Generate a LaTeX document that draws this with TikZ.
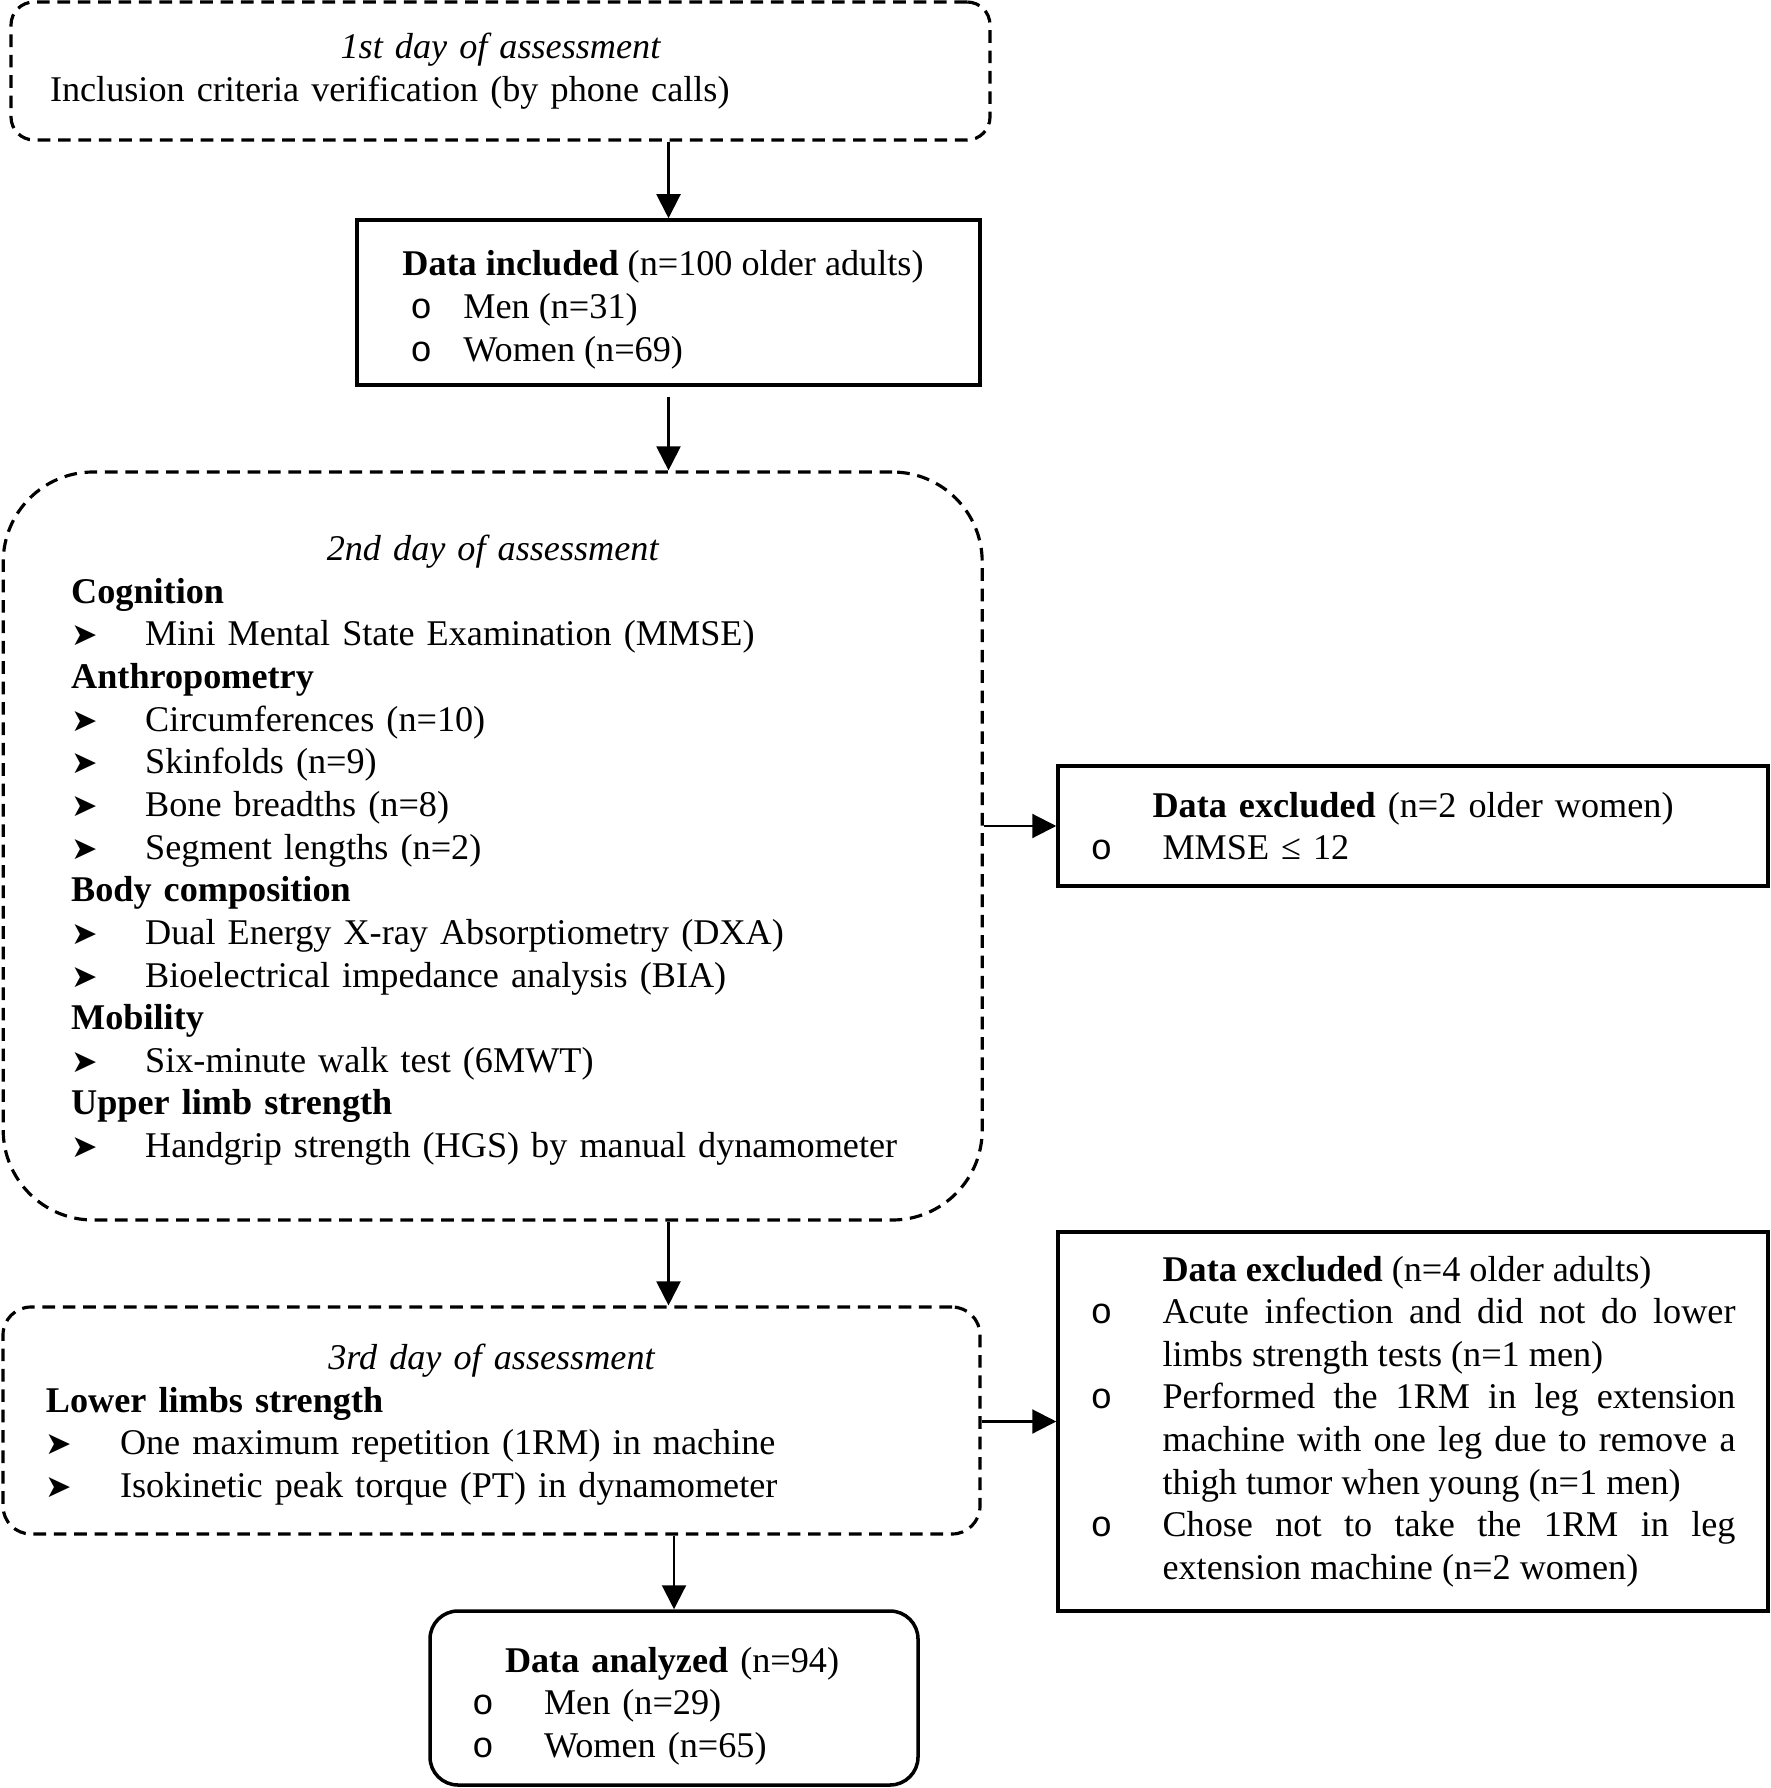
\documentclass[tikz,border=0pt]{standalone}
\usepackage{fontspec}
\setmainfont{Liberation Serif}
\newfontfamily\bulfont{Liberation Mono}
\newfontfamily\symfont{DejaVu Sans}
\usetikzlibrary{arrows.meta,positioning,calc}

% list marks as in the original form
\newcommand{\obul}[1]{\makebox[#1][l]{\bulfont o}}
\newcommand{\abul}{\makebox[0.74cm][l]{\symfont\fontsize{9}{9}\selectfont ➤}}
\newcommand{\oitem}[1]{\par\hangindent=0.72cm\hangafter=1\noindent\obul{0.72cm}#1\par}

\begin{document}
\begin{tikzpicture}[
        dbox/.style = {rectangle, draw=black, line width=0.9pt, dash pattern=on 3.6pt off 2.2pt, inner sep=0pt, font=\fontsize{10.3}{12.13}\selectfont},
        sbox/.style = {rectangle, draw=black, line width=1pt, inner sep=0pt, font=\fontsize{10.3}{12.13}\selectfont},
        arr/.style = {-{Triangle[length=2.4mm, width=2.4mm]}, line width=0.6pt, draw=black}
    ]
        \useasboundingbox (0,0) rectangle (17.7,-17.88);

        % Day 1
        \node[dbox, rounded corners=0.23cm, minimum width=9.79cm, minimum height=1.38cm, text width=9.01cm, align=left] (day1) at (5.005,-0.71)
            {{\centering\itshape 1st day of assessment\par}Inclusion criteria verification (by phone calls)};

        % Included sample
        \node[sbox, minimum width=6.23cm, minimum height=1.65cm, align=left] (incl) at (6.685,-3.025)
            {\rule{0pt}{11.3pt}\textbf{Data included} (n=100 older adults)\rule{0.11cm}{0pt}\\
             \hspace*{0.08cm}\obul{0.53cm}Men (n=31)\\
             \hspace*{0.08cm}\obul{0.53cm}Women (n=69)};

        % Day 2
        \node[dbox, rounded corners=0.9cm, minimum width=9.79cm, minimum height=7.48cm, text width=8.43cm, align=left] (day2) at (4.927,-8.46)
            {{\centering\rule{0pt}{9.7pt}\itshape 2nd day of assessment\par}
             \textbf{Cognition}\\
             \abul Mini Mental State Examination (MMSE)\\
             \textbf{Anthropometry}\\
             \abul Circumferences (n=10)\\
             \abul Skinfolds (n=9)\\
             \abul Bone breadths (n=8)\\
             \abul Segment lengths (n=2)\\
             \textbf{Body composition}\\
             \abul Dual Energy X-ray Absorptiometry (DXA)\\
             \abul Bioelectrical impedance analysis (BIA)\\
             \textbf{Mobility}\\
             \abul Six-minute walk test (6MWT)\\
             \textbf{Upper limb strength}\\
             \abul Handgrip strength (HGS) by manual dynamometer};

        % Excluded after day 2
        \node[sbox, minimum width=7.10cm, minimum height=1.20cm, text width=6.45cm, align=left] (excl1) at (14.13,-8.26)
            {\hspace*{0.62cm}\textbf{Data excluded} (n=2 older women)\\
             \obul{0.72cm}MMSE ≤ 12};

        % Day 3
        \node[dbox, rounded corners=0.28cm, minimum width=9.77cm, minimum height=2.27cm, text width=8.91cm, align=left] (day3) at (4.915,-14.205)
            {{\centering\rule{0pt}{9.7pt}\itshape 3rd day of assessment\par}
             \textbf{Lower limbs strength}\\
             \abul One maximum repetition (1RM) in machine\\
             \abul Isokinetic peak torque (PT) in dynamometer};

        % Excluded after day 3
        \node[sbox, minimum width=7.10cm, minimum height=3.79cm, text width=6.45cm, align=justify] (excl2) at (14.13,-14.215)
            {\hspace*{0.72cm}\textbf{Data excluded} (n=4 older adults)
             \oitem{Acute infection and did not do lower\linebreak limbs strength tests (n=1 men)}
             \oitem{Performed the 1RM in leg extension\linebreak machine with one leg due to remove a\linebreak thigh tumor when young (n=1 men)}
             \oitem{Chose not to take the 1RM in leg\linebreak extension machine (n=2 women)}};

        % Analyzed sample
        \node[sbox, rounded corners=0.28cm, minimum width=4.88cm, minimum height=1.74cm, text width=4.04cm, align=left] (anal) at (6.74,-16.98)
            {\rule{0pt}{11.7pt}\hspace*{0.33cm}\textbf{Data analyzed} (n=94)\\
             \obul{0.72cm}Men (n=29)\\
             \obul{0.72cm}Women (n=65)};

        % Flow
        \draw[arr] (day1.south -| incl.north) -- (incl.north);
        \draw[arr] ([yshift=-0.1cm]incl.south) -- (incl.south |- day2.north);
        \draw[arr] (day2.south -| incl.south) -- (day3.north -| incl.south);
        \draw[arr] (day3.south -| anal.north) -- (anal.north);

        % Exclusions
        \draw[arr] (day2.east |- excl1.west) -- (excl1.west);
        \draw[arr] (day3.east |- excl2.west) -- (excl2.west);

    \end{tikzpicture}
\end{document}
